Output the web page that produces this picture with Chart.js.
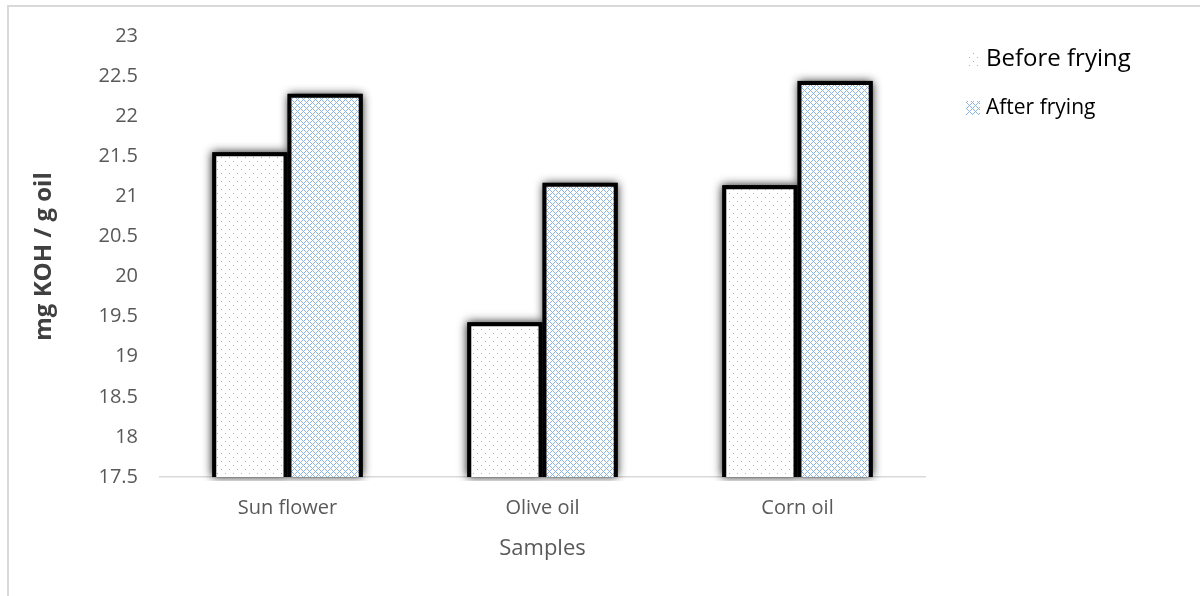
<!DOCTYPE html>
<html>
<head>
<meta charset="utf-8">
<script src="https://cdn.jsdelivr.net/npm/chart.js@4"></script>
<style>
  html, body { margin: 0; padding: 0; background: #fff; }
  #wrap { width: 1200px; height: 596px; position: relative; }
</style>
</head>
<body>
<div id="wrap"><canvas id="myChart"></canvas></div>
<script>
const categories = ['Sun flower', 'Olive oil', 'Corn oil'];
const beforeFrying = [21.55, 19.43, 21.14];
const afterFrying = [22.28, 21.17, 22.44];
const seriesNames = ['Before frying', 'After frying'];

const FONT = '"Open Sans", Lato, sans-serif';

function makePattern(kind) {
	const c = document.createElement('canvas');
	const ctx = c.getContext('2d');
	if (kind === 'dots') {
		c.width = 8; c.height = 8;
		ctx.fillStyle = '#fff';
		ctx.fillRect(0, 0, 8, 8);
		ctx.fillStyle = '#8fb6e0';
		ctx.fillRect(1, 1, 1, 1);
		ctx.fillRect(5, 5, 1, 1);
	} else {
		c.width = 6; c.height = 6;
		ctx.fillStyle = '#fff';
		ctx.fillRect(0, 0, 6, 6);
		ctx.fillStyle = '#8cb4e0';
		for (let x = 0; x < 6; x++) {
			for (let y = 0; y < 6; y++) {
				if ((x + y) % 6 === 0 || ((x - y) + 6) % 6 === 0) ctx.fillRect(x, y, 1, 1);
			}
		}
	}
	return ctx.createPattern(c, 'repeat');
}

const patBefore = makePattern('dots');
const patAfter = makePattern('cross');

// soft black glow behind every bar
const barShadow = {
	id: 'barShadow',
	beforeDatasetsDraw(chart) {
		const ctx = chart.ctx;
		const area = chart.chartArea;
		ctx.save();
		ctx.beginPath();
		ctx.rect(area.left - 20, area.top - 20, area.right - area.left + 40, area.bottom - area.top + 24);
		ctx.clip();
		ctx.shadowColor = 'rgba(0,0,0,0.9)';
		ctx.shadowBlur = 9;
		ctx.fillStyle = '#000';
		chart.data.datasets.forEach((ds, i) => {
			chart.getDatasetMeta(i).data.forEach(bar => {
				const p = bar.getProps(['x', 'y', 'base', 'width'], true);
				const bottom = Math.min(p.base, area.bottom);
				ctx.fillRect(p.x - p.width / 2, p.y, p.width, bottom - p.y);
			});
		});
		ctx.restore();
	}
};

// frame + legend like the original sheet
const decor = {
	id: 'decor',
	beforeDraw(chart) {
		const ctx = chart.ctx;
		ctx.save();
		ctx.strokeStyle = '#d9d9d9';
		ctx.lineWidth = 2;
		ctx.beginPath();
		ctx.moveTo(8, 596);
		ctx.lineTo(8, 6);
		ctx.lineTo(1200, 6);
		ctx.stroke();
		ctx.restore();
	},
	afterDraw(chart) {
		const ctx = chart.ctx;
		const items = [
			{ text: seriesNames[0], pat: patBefore, y: 59, size: 24 },
			{ text: seriesNames[1], pat: patAfter, y: 108, size: 21 }
		];
		ctx.save();
		items.forEach(it => {
			ctx.fillStyle = it.pat;
			ctx.fillRect(966, it.y - 7, 14, 14);
			ctx.fillStyle = '#000';
			ctx.font = it.size + 'px ' + FONT;
			ctx.textBaseline = 'middle';
			ctx.textAlign = 'left';
			ctx.fillText(it.text, 986, it.y);
		});
		ctx.restore();
	}
};

new Chart(document.getElementById('myChart').getContext('2d'), {
	type: 'bar',
	data: {
		labels: categories,
		datasets: [
			{
				label: seriesNames[0],
				data: beforeFrying,
				backgroundColor: patBefore,
				borderColor: '#000',
				borderWidth: 4,
				borderSkipped: false
			},
			{
				label: seriesNames[1],
				data: afterFrying,
				backgroundColor: patAfter,
				borderColor: '#000',
				borderWidth: 4,
				borderSkipped: false
			}
		]
	},
	options: {
		responsive: true,
		maintainAspectRatio: false,
		animation: false,
		devicePixelRatio: 1,
		layout: { padding: { left: 26, top: 36, right: 275, bottom: 30 } },
		categoryPercentage: 0.59,
		barPercentage: 1.0,
		plugins: {
			legend: { display: false },
			tooltip: { enabled: false }
		},
		scales: {
			x: {
				afterFit(scale) { scale.height = 89; },
				grid: { display: false, drawTicks: false },
				border: { display: true, color: '#d9d9d9', width: 1.5 },
				ticks: { color: '#595959', font: { family: FONT, size: 20 }, padding: 19 },
				title: {
					display: true,
					text: 'Samples',
					color: '#595959',
					font: { family: FONT, size: 22 },
					padding: { top: 8 }
				}
			},
			y: {
				min: 17.5,
				max: 23,
				afterFit(scale) { scale.width = 134; },
				grid: { display: false, drawTicks: false },
				border: { display: false },
				ticks: {
					stepSize: 0.5,
					color: '#595959',
					font: { family: FONT, size: 20 },
					padding: 22,
					callback: v => String(Math.round(v * 10) / 10)
				},
				title: {
					display: true,
					text: 'mg KOH / g oil',
					color: '#404040',
					font: { family: FONT, size: 24, weight: 'bold' },
					padding: { bottom: 0 }
				}
			}
		}
	},
	plugins: [barShadow, decor]
});
</script>
</body>
</html>
